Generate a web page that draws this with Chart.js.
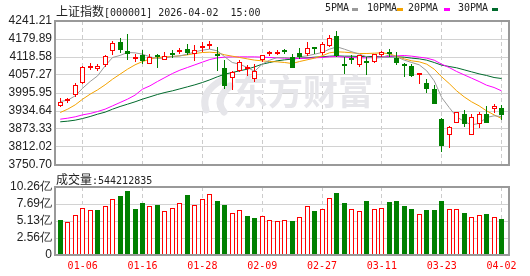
<!DOCTYPE html>
<html>
<head>
<meta charset="utf-8">
<script src="https://cdn.jsdelivr.net/npm/chart.js@4.4.1/dist/chart.umd.min.js"></script>
<style>
html, body { margin: 0; padding: 0; background: #fff; }
#wrap { position: relative; width: 530px; height: 276px; overflow: hidden; }
canvas { position: absolute; left: 0; top: 0; }
.t { position: absolute; white-space: pre; color: #222; line-height: 14px; font: 10px "DejaVu Sans Mono"; }
.cjk { font: 12px "Noto Sans CJK SC"; }
.box { position: absolute; width: 6px; height: 3px; }
</style>
</head>
<body>
<div id="wrap">
<canvas id="kline" width="530" height="276"></canvas>
<canvas id="vol" width="530" height="276"></canvas>
<div class="t" style="left:56px;top:2px"><span class="cjk">上证指数</span>[000001] 2026-04-02  15:00</div>
<div id="legend"></div>
<div class="t" style="left:56px;top:170px"><span class="cjk">成交量</span>:544212835</div>
</div>
<script>
// trading days shown (MM-DD)
const dates = [
  "12-30", "12-31", "01-05", "01-06", "01-07", "01-08", "01-09", "01-12", "01-13", "01-14",
  "01-15", "01-16", "01-19", "01-20", "01-21", "01-22", "01-23", "01-26", "01-27", "01-28",
  "01-29", "01-30", "02-02", "02-03", "02-04", "02-05", "02-06", "02-09", "02-10", "02-11",
  "02-12", "02-13", "02-24", "02-25", "02-26", "02-27", "03-02", "03-03", "03-04", "03-05",
  "03-06", "03-09", "03-10", "03-11", "03-12", "03-13", "03-16", "03-17", "03-18", "03-19",
  "03-20", "03-23", "03-24", "03-25", "03-26", "03-27", "03-30", "03-31", "04-01", "04-02"
];

const opens = [
  3952.3, 3969.4, 3988.4, 4029.3, 4082.8, 4079.4, 4090.6, 4139.7, 4171.3, 4140.7,
  4111.0, 4126.0, 4096.4, 4121.3, 4109.0, 4127.1, 4136.3, 4147.5, 4129.5, 4148.5,
  4157.7, 4130.5, 4082.8, 4047.7, 4069.2, 4079.4, 4043.0, 4109.0, 4128.1, 4129.5,
  4139.7, 4119.2, 4131.5, 4128.1, 4151.5, 4131.5, 4156.7, 4190.8, 4090.6, 4112.4,
  4092.0, 4102.2, 4102.2, 4124.7, 4137.3, 4116.8, 4093.0, 4088.6, 4057.9, 4030.7,
  4007.9, 3906.7, 3853.6, 3894.5, 3926.1, 3853.6, 3889.7, 3926.1, 3942.1, 3944.2
];
const closes = [
  3967.0, 3972.8, 4024.9, 4085.2, 4088.6, 4087.2, 4122.6, 4167.9, 4143.1, 4130.5,
  4115.8, 4105.6, 4119.2, 4117.9, 4120.3, 4123.7, 4138.3, 4133.9, 4143.1, 4153.3,
  4162.2, 4122.6, 4019.1, 4068.1, 4102.2, 4085.2, 4069.2, 4126.0, 4131.5, 4136.3,
  4137.3, 4082.8, 4119.2, 4148.5, 4147.5, 4164.5, 4185.0, 4122.6, 4088.6, 4110.0,
  4126.0, 4099.8, 4128.1, 4136.3, 4128.1, 4097.4, 4087.2, 4054.5, 4064.7, 4008.9,
  3957.8, 3816.1, 3881.8, 3931.9, 3889.7, 3914.9, 3925.1, 3893.1, 3950.0, 3920.3
];
const highs = [
  3980.6, 3980.6, 4029.3, 4087.2, 4098.8, 4094.0, 4124.7, 4173.7, 4182.6, 4196.2,
  4130.5, 4143.1, 4130.5, 4130.5, 4136.3, 4144.1, 4148.5, 4164.5, 4160.1, 4170.3,
  4173.7, 4153.3, 4107.7, 4070.0, 4107.7, 4092.0, 4094.0, 4126.5, 4139.7, 4143.1,
  4147.5, 4128.1, 4148.5, 4171.3, 4152.0, 4171.3, 4194.2, 4207.8, 4119.2, 4126.0,
  4127.0, 4119.2, 4128.5, 4139.7, 4145.1, 4136.3, 4099.8, 4094.0, 4065.0, 4045.3,
  4022.5, 3910.1, 3882.0, 3932.0, 3939.7, 3923.7, 3931.9, 3951.0, 3957.8, 3953.4
];
const lows = [
  3948.9, 3960.2, 3984.0, 4027.5, 4073.6, 4071.5, 4085.2, 4126.0, 4131.5, 4109.0,
  4102.2, 4096.4, 4096.0, 4082.8, 4108.5, 4116.8, 4128.1, 4124.7, 4105.6, 4136.3,
  4145.1, 4069.2, 4008.9, 4005.5, 4065.8, 4053.2, 4034.1, 4102.2, 4122.6, 4126.0,
  4128.1, 4082.0, 4111.0, 4122.6, 4128.1, 4124.7, 4153.3, 4119.2, 4060.0, 4094.0,
  4085.2, 4057.9, 4099.8, 4119.2, 4119.2, 4090.6, 4051.1, 4051.1, 4025.9, 3996.6,
  3957.0, 3793.3, 3807.9, 3892.1, 3880.8, 3853.0, 3876.1, 3893.0, 3929.5, 3904.7
];
const prevClose = 3969.0;

const ma5 = [
  3967.0, 3971.5, 3986.3, 4012.4, 4035.1, 4054.4, 4088.5, 4116.9, 4124.0, 4133.9,
  4132.8, 4128.2, 4119.1, 4113.5, 4114.6, 4120.3, 4122.5, 4128.2, 4136.2, 4141.8,
  4145.2, 4139.6, 4119.1, 4099.8, 4094.2, 4082.8, 4070.0, 4094.2, 4107.8, 4116.9,
  4116.9, 4114.6, 4119.1, 4122.5, 4128.2, 4133.9, 4145.2, 4153.2, 4145.2, 4136.2,
  4128.2, 4119.1, 4114.6, 4116.9, 4125.9, 4119.1, 4107.8, 4099.8, 4091.9, 4071.5,
  4037.4, 3980.6, 3946.6, 3914.8, 3898.9, 3887.5, 3892.1, 3912.5, 3918.2, 3915.9
];
const ma10 = [
  3929.5, 3940.9, 3955.6, 3975.0, 3992.0, 4006.7, 4023.8, 4043.1, 4060.1, 4077.1,
  4091.9, 4103.2, 4111.2, 4116.9, 4119.1, 4120.3, 4122.5, 4125.9, 4130.5, 4133.9,
  4135.0, 4132.8, 4125.9, 4121.4, 4116.9, 4112.3, 4107.8, 4105.5, 4103.2, 4102.1,
  4099.8, 4096.4, 4103.2, 4108.9, 4114.6, 4122.5, 4132.8, 4136.2, 4135.0, 4132.8,
  4130.5, 4130.5, 4131.6, 4132.8, 4129.4, 4120.3, 4112.3, 4105.5, 4102.1, 4094.2,
  4077.1, 4051.0, 4028.3, 4003.3, 3982.9, 3965.9, 3952.2, 3935.2, 3921.6, 3909.1
];
const ma20 = [
  3906.8, 3910.2, 3914.8, 3921.6, 3926.1, 3932.9, 3940.9, 3952.2, 3963.6, 3975.0,
  3988.6, 4009.0, 4020.4, 4035.1, 4048.7, 4062.4, 4073.7, 4082.8, 4091.9, 4101.0,
  4110.0, 4115.7, 4118.0, 4119.1, 4119.1, 4119.1, 4119.1, 4118.0, 4116.9, 4115.7,
  4114.6, 4113.5, 4113.5, 4114.6, 4115.7, 4116.9, 4119.1, 4120.3, 4118.0, 4116.9,
  4115.7, 4115.7, 4116.9, 4119.1, 4120.3, 4122.5, 4123.7, 4121.4, 4118.0, 4114.6,
  4107.8, 4094.2, 4082.8, 4069.2, 4057.8, 4046.5, 4035.1, 4022.6, 4014.7, 4003.3
];
const ma30 = [
  3897.8, 3900.0, 3903.4, 3909.1, 3915.9, 3923.9, 3930.7, 3940.9, 3950.0, 3957.9,
  3965.9, 3975.0, 3982.9, 3990.9, 3997.7, 4003.3, 4010.1, 4016.9, 4023.8, 4031.7,
  4040.8, 4051.0, 4060.1, 4065.8, 4071.5, 4077.1, 4085.1, 4094.2, 4099.8, 4105.5,
  4108.9, 4111.2, 4114.6, 4115.7, 4118.0, 4119.1, 4121.4, 4122.5, 4121.4, 4121.4,
  4120.3, 4120.3, 4120.3, 4119.1, 4119.1, 4119.1, 4118.0, 4114.6, 4112.3, 4107.8,
  4099.8, 4090.8, 4086.2, 4081.7, 4074.9, 4068.0, 4061.2, 4055.6, 4048.7, 4045.3
];

// volume in 亿 (1e8)
const volumes = [
  5.25, 4.95, 6.00, 7.05, 6.85, 6.75, 7.35, 8.50, 8.85, 9.60,
  6.90, 7.80, 7.35, 7.50, 6.70, 7.15, 7.90, 9.05, 7.60, 8.40,
  9.20, 8.10, 7.55, 6.40, 6.85, 5.95, 5.55, 5.85, 5.25, 5.10,
  5.35, 5.10, 5.70, 7.35, 6.60, 6.90, 8.65, 9.35, 7.85, 7.00,
  6.60, 8.10, 6.90, 7.15, 7.95, 8.10, 7.35, 6.90, 6.25, 6.75,
  6.75, 8.10, 6.90, 6.90, 6.35, 5.70, 6.00, 6.15, 5.70, 5.44
];

const priceTicks = [4241.21, 4179.89, 4118.58, 4057.27, 3995.95, 3934.64, 3873.33, 3812.02, 3750.70];
const volTicks = [0, 2.565, 5.13, 7.695, 10.26];
const volTickLabels = ["0", "2.56亿", "5.13亿", "7.69亿", "10.26亿"];
const dateTickIdx = [3, 11, 19, 27, 35, 43, 51, 59];

const maLabels = ["5PMA", "10PMA", "20PMA", "30PMA"];
const maColors = ["#9a9a9a", "#f4a300", "#ff00ff", "#006a2c"];

const RED = "#ff0000";
const GREEN = "#008000";

// legend (text + colour box)
const legendText = [325, 367, 408, 458];
const legendBox = [352, 397, 444, 492];
const legend = document.getElementById("legend");
maLabels.forEach((name, i) => {
    const t = document.createElement("div");
    t.className = "t";
    t.style.left = legendText[i] + "px";
    t.style.top = "2px";
    t.textContent = name;
    legend.appendChild(t);
    const b = document.createElement("div");
    b.className = "box";
    b.style.left = legendBox[i] + "px";
    b.style.top = "8px";
    b.style.background = maColors[i];
    legend.appendChild(b);
});

const up = closes.map((c, i) => c >= opens[i]);
const volUp = closes.map((c, i) => c >= (i === 0 ? prevClose : closes[i - 1]));

const frame = {
    id: "frame",
    afterDraw(chart) {
        const a = chart.chartArea;
        const ctx = chart.ctx;
        ctx.save();
        ctx.strokeStyle = "#999";
        ctx.lineWidth = 2;
        ctx.strokeRect(a.left, a.top, a.right - a.left, a.bottom - a.top);
        ctx.restore();
    }
};

// snap bar edges to whole pixels so the thin borders stay crisp
const snapBars = {
    id: "snapBars",
    afterDatasetsUpdate(chart) {
        chart.data.datasets.forEach((ds, i) => {
            const meta = chart.getDatasetMeta(i);
            if (meta.type !== "bar") return;
            meta.data.forEach(el => {
                el.x = Math.floor(el.x) + 0.5;
                el.y = Math.round(el.y);
                el.base = Math.round(el.base);
            });
        });
    }
};

const watermark = {
    id: "watermark",
    beforeDatasetsDraw(chart) {
        const ctx = chart.ctx;
        ctx.save();
        ctx.fillStyle = "#e6e6ea";
        ctx.strokeStyle = "#e6e6ea";
        ctx.lineCap = "round";
        ctx.lineWidth = 7;
        ctx.beginPath();
        ctx.moveTo(222, 80);
        ctx.quadraticCurveTo(200, 92, 206, 110);
        ctx.stroke();
        ctx.beginPath();
        ctx.moveTo(230, 86);
        ctx.quadraticCurveTo(214, 100, 224, 112);
        ctx.stroke();
        ctx.font = "bold 35px 'Noto Sans CJK SC'";
        ctx.textBaseline = "middle";
        ctx.fillText("东方财富", 233, 92);
        ctx.restore();
    }
};

const xBase = {
    type: "linear",
    min: -0.7,
    max: 60,
    offset: false,
    afterBuildTicks: s => { s.ticks = dateTickIdx.map(v => ({ value: v })); },
    grid: { color: "#cccccc", drawTicks: false, offset: false },
    border: { display: false, dash: [4, 3] }
};

const yFont = { family: "Liberation Sans", size: 12, lineHeight: 1 };

new Chart(document.getElementById("kline"), {
    type: "bar",
    data: {
        datasets: [
            ...maLabels.map((name, k) => ({
                type: "line",
                label: name,
                data: [ma5, ma10, ma20, ma30][k].map((v, i) => ({ x: i, y: v })),
                borderColor: maColors[k],
                borderWidth: 1,
                pointRadius: 0,
                tension: 0,
                order: 3
            })),
            {
                label: "wick",
                data: dates.map((d, i) => ({ x: i, y: [lows[i], highs[i]] })),
                backgroundColor: up.map(u => u ? RED : GREEN),
                barThickness: 1,
                grouped: false,
                inflateAmount: 0,
                order: 2
            },
            {
                label: "body",
                data: dates.map((d, i) => ({ x: i, y: [opens[i], closes[i]] })),
                backgroundColor: up.map(u => u ? "#ffffff" : GREEN),
                borderColor: up.map(u => u ? RED : GREEN),
                borderWidth: 1,
                borderSkipped: false,
                barThickness: 5,
                minBarLength: 2,
                grouped: false,
                inflateAmount: 0,
                order: 1
            }
        ]
    },
    options: {
        responsive: false,
        animation: false,
        devicePixelRatio: 1,
        layout: { padding: { top: 21, right: 21, bottom: 111, left: 0 } },
        plugins: { legend: { display: false }, tooltip: { enabled: false } },
        scales: {
            x: { ...xBase, ticks: { display: false } },
            y: {
                min: priceTicks[priceTicks.length - 1],
                max: priceTicks[0],
                afterFit: s => { s.width = 55; },
                afterBuildTicks: s => { s.ticks = priceTicks.map(v => ({ value: v })); },
                ticks: { callback: v => v.toFixed(2), color: "#222", font: yFont, padding: 3 },
                grid: { color: "#d2d2d2", drawTicks: false },
                border: { display: false }
            }
        }
    },
    plugins: [watermark, snapBars, frame]
});

new Chart(document.getElementById("vol"), {
    type: "bar",
    data: {
        datasets: [
            {
                label: "成交量",
                data: volumes.map((v, i) => ({ x: i, y: v })),
                backgroundColor: volUp.map(u => u ? "#ffffff" : GREEN),
                borderColor: volUp.map(u => u ? RED : GREEN),
                borderWidth: 1,
                borderSkipped: false,
                barThickness: 5,
                inflateAmount: 0
            }
        ]
    },
    options: {
        responsive: false,
        animation: false,
        devicePixelRatio: 1,
        layout: { padding: { top: 187, right: 21, bottom: 0, left: 0 } },
        plugins: { legend: { display: false }, tooltip: { enabled: false } },
        scales: {
            x: {
                ...xBase,
                afterFit: s => { s.height = 21; },
                ticks: {
                    callback: v => dates[v],
                    color: RED,
                    font: { family: "DejaVu Sans Mono", size: 10 },
                    padding: 5,
                    autoSkip: false,
                    maxRotation: 0
                }
            },
            y: {
                min: 0,
                max: volTicks[volTicks.length - 1],
                afterFit: s => { s.width = 55; },
                afterBuildTicks: s => { s.ticks = volTicks.map(v => ({ value: v })); },
                ticks: { callback: (v, i) => volTickLabels[i], color: "#222", font: yFont, padding: 3 },
                grid: { color: "#d2d2d2", drawTicks: false },
                border: { display: false }
            }
        }
    },
    plugins: [snapBars, frame]
});
</script>
</body>
</html>
